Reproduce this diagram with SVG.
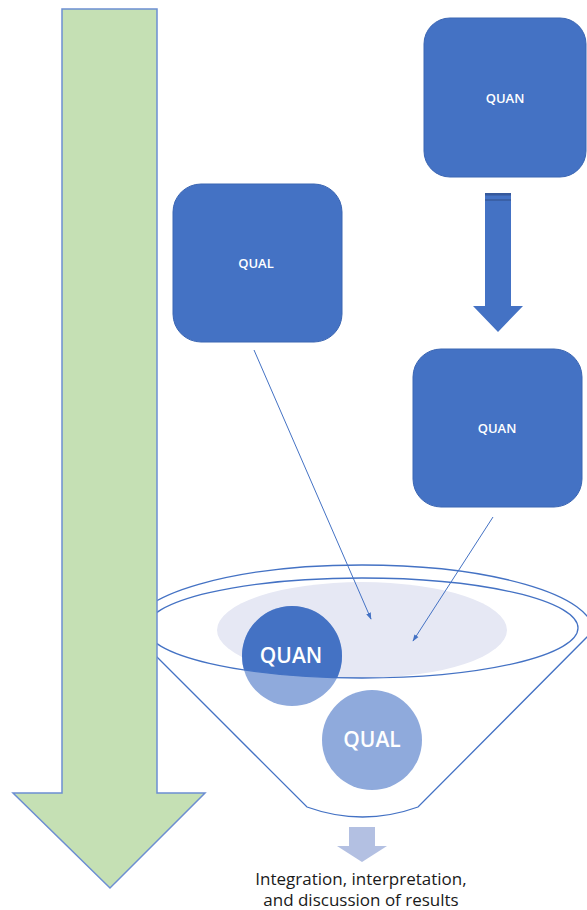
<svg xmlns="http://www.w3.org/2000/svg" width="587" height="910" viewBox="0 0 587 910">
  <style>
    .box { fill: #4472c4; stroke: #3b66b3; stroke-width: 1; }
    .boxlabel { fill: #ffffff; font-family: "Open Sans", "Noto Sans", sans-serif; font-size: 13px; font-weight: 600; text-anchor: middle; dominant-baseline: central; }
    .circlelabel { fill: #ffffff; font-family: "Open Sans", "Noto Sans", sans-serif; font-size: 21px; font-weight: 600; text-anchor: middle; dominant-baseline: central; }
    .rim { fill: none; stroke: #4472c4; stroke-width: 1.3; }
    .link { fill: none; stroke: #4472c4; stroke-width: 1; }
    .caption { fill: #1a1a1a; font-family: "Open Sans", "Noto Sans", sans-serif; font-size: 17px; text-anchor: middle; }
  </style>
  <defs>
    <marker id="head" viewBox="0 0 10 10" refX="9" refY="5" markerWidth="7" markerHeight="7" markerUnits="userSpaceOnUse" orient="auto">
      <path d="M0,1.5 L10,5 L0,8.5 Z" fill="#4472c4"/>
    </marker>
    <clipPath id="bowl">
      <ellipse cx="362" cy="628" rx="216" ry="50"/>
    </clipPath>
  </defs>

  <!-- funnel -->
  <g id="funnel">
    <path d="M131,631 A231,66 0 0 1 593,631 L418,807 Q362.5,827 307,807 Z" fill="#ffffff" stroke="none"/>
    <ellipse cx="362" cy="630" rx="145" ry="48" fill="#e6e8f4"/>
    <path class="rim" d="M131,631 A231,66 0 0 1 593,631"/>
    <path class="rim" d="M131,631 L307,807 Q362.5,827 418,807 L593,631"/>
  </g>

  <!-- circles inside the funnel -->
  <g id="quan-circle">
    <circle cx="292" cy="656" r="50" fill="#8faadc"/>
    <circle cx="292" cy="656" r="50" fill="#4472c4" clip-path="url(#bowl)"/>
    <text class="circlelabel" x="291" y="655">QUAN</text>
  </g>
  <g id="qual-circle">
    <circle cx="372" cy="740" r="50" fill="#8faadc"/>
    <text class="circlelabel" x="372" y="739">QUAL</text>
  </g>

  <ellipse class="rim" cx="362" cy="628" rx="216" ry="50"/>

  <!-- timeline arrow -->
  <g id="timeline">
    <path d="M62,9 L157,9 L157,793 L205,793 L110,888 L13,793 L62,793 Z" fill="#c5e0b4" stroke="#6c8ed2" stroke-width="1.5" stroke-linejoin="miter"/>
  </g>

  <!-- method boxes -->
  <g id="quan-top">
    <rect class="box" x="424" y="18" width="162" height="159" rx="26"/>
    <text class="boxlabel" x="505" y="98">QUAN</text>
  </g>
  <g id="qual-box">
    <rect class="box" x="173" y="184" width="169" height="158" rx="28"/>
    <text class="boxlabel" x="256" y="263">QUAL</text>
  </g>
  <g id="quan-mid">
    <rect class="box" x="413" y="349" width="169" height="158" rx="28"/>
    <text class="boxlabel" x="497" y="428">QUAN</text>
  </g>

  <!-- connectors -->
  <g id="connectors">
    <path d="M485,193 L511,193 L511,306 L523,306 L498,332 L473,306 L485,306 Z" fill="#4472c4"/>
    <rect x="485" y="193" width="26" height="2.5" fill="#36599c"/>
    <rect x="485" y="199" width="26" height="2" fill="#3a60a6"/>
    <line class="link" x1="254" y1="350" x2="371" y2="619" marker-end="url(#head)"/>
    <line class="link" x1="493" y1="517" x2="413" y2="641" marker-end="url(#head)"/>
    <path d="M349,827 L375,827 L375,846 L387,846 L362,862 L337,846 L349,846 Z" fill="#b3c0e2"/>
  </g>

  <!-- caption -->
  <g id="caption">
    <text class="caption" x="361" y="885">Integration, interpretation,</text>
    <text class="caption" x="361" y="906">and discussion of results</text>
  </g>
</svg>
